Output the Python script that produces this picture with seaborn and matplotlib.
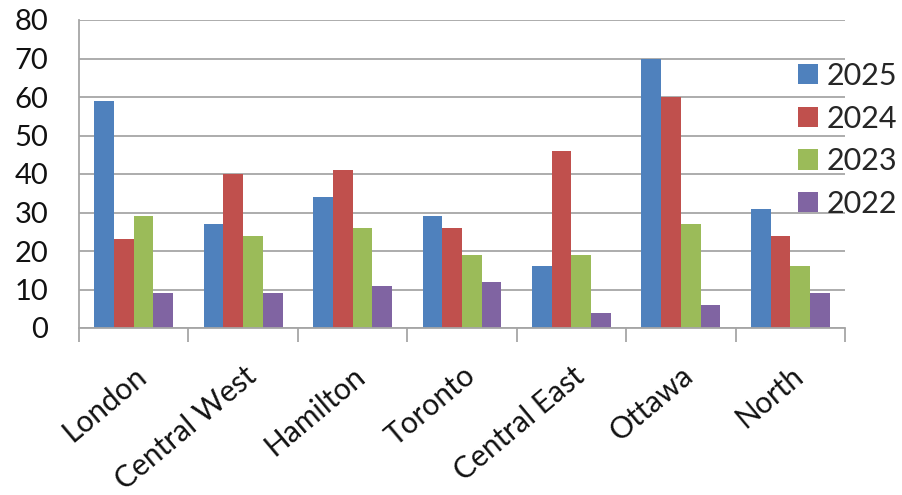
import matplotlib
matplotlib.use("Agg")
import matplotlib.pyplot as plt
import numpy as np
import pandas as pd
import seaborn as sns

regions = ["London", "Central West", "Hamilton", "Toronto", "Central East", "Ottawa", "North"]
years = ["2025", "2024", "2023", "2022"]
v2025 = [59, 27, 34, 29, 16, 70, 31]
v2024 = [23, 40, 41, 26, 46, 60, 24]
v2023 = [29, 24, 26, 19, 19, 27, 16]
v2022 = [9, 9, 11, 12, 4, 6, 9]
yticks = [0, 10, 20, 30, 40, 50, 60, 70, 80]

colors = ["#4F81BD", "#C0504D", "#9BBB59", "#8064A2"]

df = pd.DataFrame({
    "region": regions * 4,
    "year": [y for y in years for _ in regions],
    "value": v2025 + v2024 + v2023 + v2022,
})

sns.set_theme(style="white")
plt.rcParams["font.family"] = ["Lato", "DejaVu Sans"]

fig = plt.figure(figsize=(9.02, 4.95), dpi=100)
ax = fig.add_axes([79 / 902, 1 - 328 / 495, (845 - 79) / 902, (328 - 20) / 495])

sns.barplot(data=df, x="region", y="value", hue="year", order=regions,
            hue_order=years, palette=colors, width=0.72, saturation=1,
            edgecolor="none", linewidth=0, ax=ax, legend=True)

grid_c = "#A6A6A6"
ax.set_xlim(-0.5, len(regions) - 0.5)
ax.set_ylim(0, 80)
ax.set_yticks(yticks)
ax.set_yticklabels([str(t) for t in yticks], fontsize=21, color="#111111")
ax.yaxis.grid(True, color=grid_c, linewidth=1.3)
ax.set_axisbelow(True)
ax.tick_params(axis="y", length=12, width=1.3, color=grid_c, pad=10)

# category boundaries as tick marks on the x axis
ax.set_xticks(np.arange(len(regions)))
ax.set_xticks(np.arange(len(regions) + 1) - 0.5, minor=True)
ax.tick_params(axis="x", which="major", length=0, pad=24)
ax.tick_params(axis="x", which="minor", length=10, width=1.3, color=grid_c, bottom=True)
for lab in ax.get_xticklabels():
    lab.set_rotation(40)
    lab.set_ha("right")
    lab.set_va("top")
    lab.set_rotation_mode("anchor")
    lab.set_fontsize(21.5)
    lab.set_color("#111111")

ax.set_xlabel("")
ax.set_ylabel("")
for side in ["top", "right"]:
    ax.spines[side].set_visible(False)
for side in ["left", "bottom"]:
    ax.spines[side].set_color(grid_c)
    ax.spines[side].set_linewidth(1.3)

handles, labels = ax.get_legend_handles_labels()
ax.legend(handles, labels, loc="upper left", bbox_to_anchor=(798 / 902, 1 - 62 / 495),
          bbox_transform=fig.transFigure, frameon=False, fontsize=22,
          handlelength=0.65, handleheight=0.65, handletextpad=0.3, labelspacing=0.48,
          borderaxespad=0, borderpad=0)

fig.savefig("out.png", dpi=100)
